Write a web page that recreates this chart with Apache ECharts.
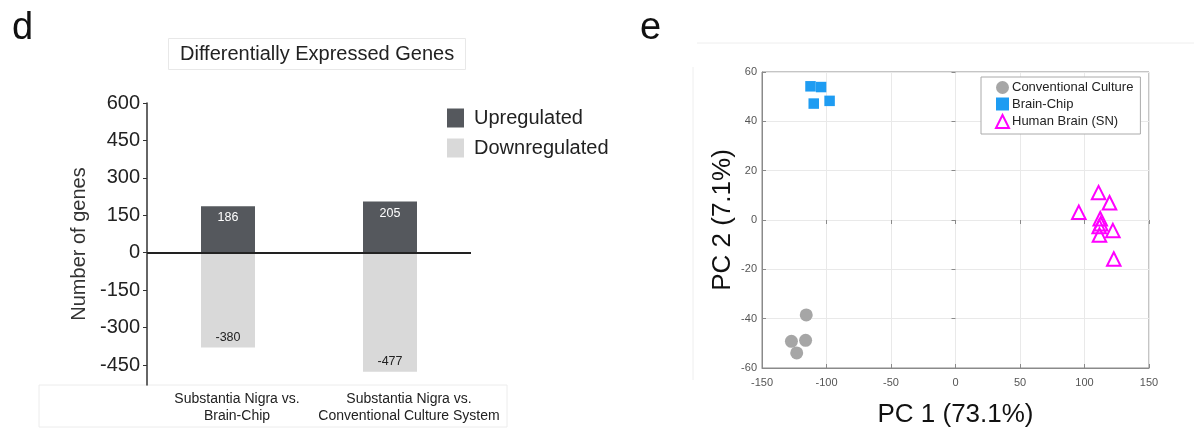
<!DOCTYPE html>
<html>
<head>
<meta charset="utf-8">
<script src="https://cdn.jsdelivr.net/npm/echarts@6/dist/echarts.min.js"></script>
<style>
  html, body { margin: 0; padding: 0; background: #fff; }
  #chart { width: 1194px; height: 439px; }
</style>
</head>
<body>
<div id="chart"></div>
<script>
// ---- Panel d: differentially expressed genes ----
const categories = ['Substantia Nigra vs.\nBrain-Chip', 'Substantia Nigra vs.\nConventional Culture System'];
const upregulated = [186, 205];
const downregulated = [-380, -477];
const geneTicks = [-450, -300, -150, 0, 150, 300, 450, 600];

// ---- Panel e: PCA ----
const conventionalCulture = [[-115.7, -38.5], [-127.2, -49.2], [-116.2, -48.8], [-123.1, -53.9]];
const brainChip = [[-112.4, 54.2], [-104.2, 53.9], [-109.9, 47.2], [-97.6, 48.3]];
const humanBrainSN = [[110.9, 11.1], [119.4, 7.0], [95.6, 3.1], [112.2, 0.5], [112.6, -1.5], [111.4, -2.6], [122.0, -4.3], [111.6, -6.1], [122.7, -15.8]];

const FONT = 'Liberation Sans, Arial, Helvetica, sans-serif';
const chart = echarts.init(document.getElementById('chart'), null, { renderer: 'canvas' });

const option = {
  animation: false,
  backgroundColor: '#ffffff',
  textStyle: { fontFamily: FONT },
  title: [{
    text: 'Differentially Expressed Genes',
    left: 168, top: 38,
    padding: [6, 12, 6, 12],
    borderColor: '#e8e8e8', borderWidth: 1,
    textStyle: { fontSize: 20, fontWeight: 'normal', color: '#222', fontFamily: FONT }
  }],
  graphic: [
    { type: 'text', left: 12, top: 10, style: { text: 'd', font: '38px ' + FONT, fill: '#111' } },
    { type: 'text', left: 640, top: 10, style: { text: 'e', font: '38px ' + FONT, fill: '#111' } },
    { type: 'rect', shape: { x: 39, y: 385, width: 468, height: 42 }, style: { fill: 'none', stroke: '#ececec', lineWidth: 1 }, z: -1 },
    { type: 'line', shape: { x1: 697, y1: 43, x2: 1194, y2: 43 }, style: { stroke: '#eeeeee', lineWidth: 1 }, z: -1 },
    { type: 'line', shape: { x1: 693, y1: 67, x2: 693, y2: 380 }, style: { stroke: '#eeeeee', lineWidth: 1 }, z: -1 }
  ],
  legend: [{
    data: ['Upregulated', 'Downregulated'],
    orient: 'vertical', left: 447, top: 108,
    itemWidth: 17, itemHeight: 19, itemGap: 10, padding: 0,
    icon: 'rect',
    textStyle: { fontSize: 20, color: '#222', padding: [0, 0, 0, 5], fontFamily: FONT }
  }, {
    data: [
      { name: 'Conventional Culture', icon: 'circle' },
      { name: 'Brain-Chip', icon: 'rect' },
      { name: 'Human Brain (SN)', icon: 'triangle', itemStyle: { color: 'rgba(0,0,0,0)', borderColor: '#ff00ff', borderWidth: 2 } }
    ],
    orient: 'vertical', left: 981, top: 77,
    itemWidth: 13, itemHeight: 13, itemGap: 3.5,
    padding: [4, 7, 5, 14],
    backgroundColor: '#fff', borderColor: '#aaaaaa', borderWidth: 1,
    textStyle: { fontSize: 13, color: '#222', fontFamily: FONT, padding: [0, 0, 0, -2] }
  }],
  grid: [
    { left: 147, top: 103, width: 324, height: 282, containLabel: false },
    { left: 762, top: 72, width: 387, height: 296, show: true, borderColor: '#8a8a8a', borderWidth: 1, backgroundColor: 'transparent' }
  ],
  xAxis: [{
    gridIndex: 0, type: 'category', data: categories,
    axisLine: { show: false }, axisTick: { show: false },
    axisLabel: {
      interval: 0, margin: 6,
      formatter: function (value, index) {
        return value.split('\n').map(function (l) { return '{c' + index + '|' + l + '}'; }).join('\n');
      },
      rich: {
        c0: { fontSize: 14, lineHeight: 17, color: '#222', padding: [0, 0, 0, 18], fontFamily: FONT },
        c1: { fontSize: 14, lineHeight: 17, color: '#222', padding: [0, 0, 0, 38], fontFamily: FONT }
      }
    }
  }, {
    gridIndex: 1, type: 'value', min: -150, max: 150, interval: 50,
    name: 'PC 1 (73.1%)', nameLocation: 'middle', nameGap: 34,
    nameTextStyle: { fontSize: 26, color: '#111', fontFamily: FONT },
    axisLine: { show: true, onZero: false, lineStyle: { color: '#8a8a8a' } },
    axisTick: { show: true, inside: true, length: 4, lineStyle: { color: '#8a8a8a' } },
    axisLabel: { fontSize: 11, color: '#555', margin: 9 },
    splitLine: { show: true, lineStyle: { color: '#e9e9e9' } }
  }, {
    gridIndex: 1, type: 'value', min: -150, max: 150, interval: 50, position: 'top',
    axisLine: { show: false },
    axisTick: { show: true, inside: true, length: 4, lineStyle: { color: '#8a8a8a' } },
    axisLabel: { show: false }, splitLine: { show: false }
  }],
  yAxis: [{
    gridIndex: 0, type: 'value', min: -530, max: 600,
    name: 'Number of genes', nameLocation: 'middle', nameGap: 58,
    nameTextStyle: { fontSize: 20, color: '#333', fontFamily: FONT },
    axisLine: { show: true, lineStyle: { color: '#333', width: 1.5 } },
    axisTick: { show: true, length: 4, customValues: geneTicks, lineStyle: { color: '#333' } },
    axisLabel: { fontSize: 20, color: '#222', margin: 7, customValues: geneTicks },
    splitLine: { show: false }
  }, {
    gridIndex: 1, type: 'value', min: -60, max: 60, interval: 20,
    name: 'PC 2 (7.1%)', nameLocation: 'middle', nameGap: 26,
    nameTextStyle: { fontSize: 26, color: '#111', fontFamily: FONT },
    axisLine: { show: true, onZero: false, lineStyle: { color: '#8a8a8a' } },
    axisTick: { show: true, inside: true, length: 4, lineStyle: { color: '#8a8a8a' } },
    axisLabel: { fontSize: 11, color: '#555', margin: 5 },
    splitLine: { show: true, lineStyle: { color: '#e9e9e9' } }
  }, {
    gridIndex: 1, type: 'value', min: -60, max: 60, interval: 20, position: 'right',
    axisLine: { show: false },
    axisTick: { show: true, inside: true, length: 4, lineStyle: { color: '#8a8a8a' } },
    axisLabel: { show: false }, splitLine: { show: false }
  }],
  series: [{
    name: 'Upregulated', type: 'bar', xAxisIndex: 0, yAxisIndex: 0,
    stack: 'genes', barWidth: 54, data: upregulated,
    itemStyle: { color: '#55585d' },
    label: { show: true, position: 'insideTop', distance: 5, color: '#fff', fontSize: 12.5, fontFamily: FONT },
    markLine: {
      silent: true, symbol: 'none', label: { show: false },
      lineStyle: { color: '#222', width: 2, type: 'solid' },
      data: [{ yAxis: 0 }]
    }
  }, {
    name: 'Downregulated', type: 'bar', xAxisIndex: 0, yAxisIndex: 0,
    stack: 'genes', barWidth: 54, data: downregulated,
    itemStyle: { color: '#d9d9d9' },
    label: { show: true, position: 'insideBottom', distance: 4, color: '#222', fontSize: 12.5, fontFamily: FONT }
  }, {
    name: 'Conventional Culture', type: 'scatter', xAxisIndex: 1, yAxisIndex: 1,
    symbol: 'circle', symbolSize: 13, data: conventionalCulture,
    itemStyle: { color: '#a6a6a6', opacity: 1 }
  }, {
    name: 'Brain-Chip', type: 'scatter', xAxisIndex: 1, yAxisIndex: 1,
    symbol: 'rect', symbolSize: 10.5, data: brainChip,
    itemStyle: { color: '#1e9cf2', opacity: 1 }
  }, {
    name: 'Human Brain (SN)', type: 'scatter', xAxisIndex: 1, yAxisIndex: 1,
    symbol: 'triangle', symbolSize: 13.5, data: humanBrainSN,
    itemStyle: { color: 'rgba(0,0,0,0)', borderColor: '#ff00ff', borderWidth: 2, opacity: 1 }
  }]
};

chart.setOption(option);
</script>
</body>
</html>
